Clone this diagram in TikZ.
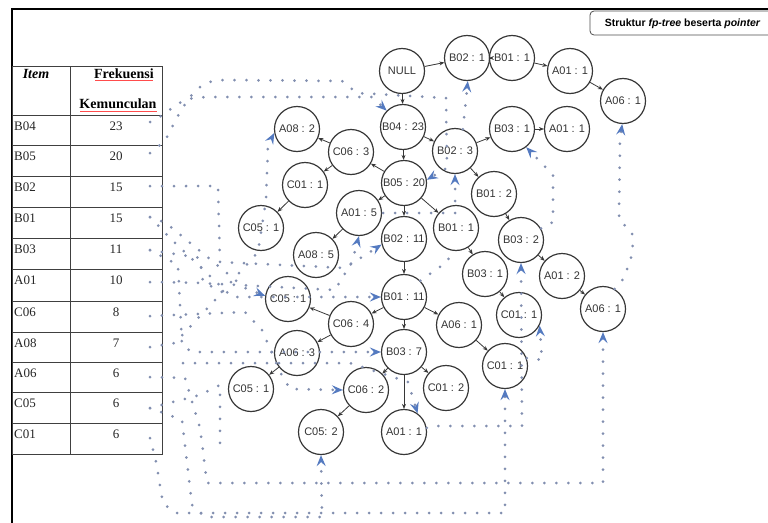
\documentclass[tikz,border=0pt]{standalone}
\usepackage{fontspec}
\setmainfont{Liberation Serif}
\setsansfont{Liberation Sans}
\usetikzlibrary{arrows.meta}
\definecolor{ptr}{RGB}{130,143,176}
\definecolor{ptrblue}{RGB}{84,122,192}
\definecolor{ink}{RGB}{55,55,55}
\begin{document}
\begin{tikzpicture}[x=1pt,y=-1pt,
  fpnode/.style={circle,draw=ink,line width=1.2pt,minimum size=45pt,inner sep=0pt,
    font=\sffamily\fontsize{11}{12}\selectfont,text=black!80},
  treeedge/.style={draw=ink,line width=0.8pt,-{Stealth[length=5pt,width=4pt]}},
  pointer/.style={draw=ptr,line width=3pt,line cap=round,dash pattern=on 0pt off 12pt},
  ptrarrow/.style={pointer,-{Stealth[length=11pt,width=9pt,inset=4pt,color=ptrblue]}},
  cell/.style={font=\fontsize{13}{15}\selectfont,text=black!85,inner sep=0pt},
  head/.style={font=\bfseries\fontsize{14}{16}\selectfont,inner sep=0pt},
  rule/.style={draw=black!75,line width=0.9pt}
]
\useasboundingbox (0,0) rectangle (768,522);

% page frame and caption box
\draw[line width=1.7pt] (12,530) -- (12,9) -- (780,9);
\draw[draw=black!70,line width=0.8pt,rounded corners=4pt] (790,11) -- (590,11) -- (590,35) -- (790,35);
\node[font=\sffamily\bfseries\fontsize{10.5}{12}\selectfont,anchor=east] (caption) at (764,24)
  {Struktur \textit{fp-tree} beserta \textit{pointer}};

% frequency table
\draw[rule] (12,66) rectangle (162,454);
\draw[rule] (70,66) -- (70,454);
\foreach \yy in {115,145,176,207,238,269,301,332,362,392,423}
  \draw[rule] (12,\yy) -- (162,\yy);
\node[head,font=\bfseries\itshape\fontsize{14}{16}\selectfont,anchor=base] (hitem) at (36,78) {Item};
\node[head,anchor=base] (hfreq1) at (124,78) {Frekuensi};
\node[head,anchor=base] (hfreq2) at (118,108) {Kemunculan};
\draw[red!70,line width=0.6pt] (95,80) -- (153,80) (80,111) -- (157,111);
\foreach \it/\fr/\top [count=\i] in {B04/23/115,B05/20/145,B02/15/176,B01/15/207,B03/11/238,
    A01/10/269,C06/8/301,A08/7/332,A06/6/362,C05/6/392,C01/6/423}{
  \node[cell,anchor=base west] (item\i) at (14,\top+15) {\it};
  \node[cell,anchor=base] (freq\i) at (116,\top+15) {\fr};
}

% row starts of the node-links
\coordinate (rB04) at (150,122);
\coordinate (rB05) at (150,153);
\coordinate (rB02) at (150,186);
\coordinate (rB01) at (150,217);
\coordinate (rB03) at (150,250);
\coordinate (rA01) at (150,282);
\coordinate (rC06) at (150,316);
\coordinate (rA08) at (150,347);
\coordinate (rA06) at (150,377);
\coordinate (rC05) at (150,408);
\coordinate (rC01) at (150,438);
\coordinate (q1) at (383,213);
\coordinate (q2) at (183,363);

% fp-tree nodes
\node[fpnode] (null)  at (402,71)  {NULL};
\node[fpnode] (b021)  at (467,58)  {B02 : 1};
\node[fpnode] (b011t) at (512,58)  {B01 : 1};
\node[fpnode] (a011t) at (570,71)  {A01 : 1};
\node[fpnode] (a06t)  at (623,101) {A06 : 1};
\node[fpnode] (b04)   at (403,127) {B04 : 23};
\node[fpnode] (b023)  at (455,151) {B02 : 3};
\node[fpnode] (b031u) at (512,129) {B03 : 1};
\node[fpnode] (a011u) at (567,129) {A01 : 1};
\node[fpnode] (a082)  at (297,129) {A08 : 2};
\node[fpnode] (c063)  at (351,152) {C06 : 3};
\node[fpnode] (c011u) at (305,185) {C01 : 1};
\node[fpnode] (b05)   at (404,183) {B05 : 20};
\node[fpnode] (c051u) at (261,228) {C05 : 1};
\node[fpnode] (a015)  at (359,213) {A01 : 5};
\node[fpnode] (a085)  at (316,255) {A08 : 5};
\node[fpnode] (b0211) at (404,239) {B02 : 11};
\node[fpnode] (b012)  at (494,194) {B01 : 2};
\node[fpnode] (b011m) at (456,228) {B01 : 1};
\node[fpnode] (b032)  at (521,240) {B03 : 2};
\node[fpnode] (b031m) at (485,274) {B03 : 1};
\node[fpnode] (a012)  at (562,276) {A01 : 2};
\node[fpnode] (c011m) at (519,315) {C01 : 1};
\node[fpnode] (a06r)  at (603,309) {A06 : 1};
\node[fpnode] (b0111) at (404,297) {B01 : 11};
\node[fpnode] (a06m)  at (459,325) {A06 : 1};
\node[fpnode] (b037)  at (404,352) {B03 : 7};
\node[fpnode] (c011l) at (505,366) {C01 : 1};
\node[fpnode] (c012)  at (446,388) {C01 : 2};
\node[fpnode] (a011b) at (404,432) {A01 : 1};
\node[fpnode] (c064)  at (351,324) {C06 : 4};
\node[fpnode] (c051m) at (288,299) {C05 : 1};
\node[fpnode] (a063)  at (297,353) {A06 : 3};
\node[fpnode] (c051l) at (251,389) {C05 : 1};
\node[fpnode] (c062)  at (366,390) {C06 : 2};
\node[fpnode] (c052)  at (321,432) {C05: 2};

% tree edges
\foreach \p/\c in {null/b021,b021/b011t,b011t/a011t,a011t/a06t,null/b04,b04/b05,b04/b023,
    b023/b031u,b031u/a011u,b023/b012,b012/b032,b032/a012,a012/a06r,b05/c063,c063/a082,
    c063/c011u,c011u/c051u,b05/a015,a015/a085,b05/b0211,b05/b011m,b011m/b031m,b031m/c011m,
    b0211/b0111,b0111/c064,c064/c051m,c064/a063,a063/c051l,b0111/a06m,a06m/c011l,
    b0111/b037,b037/c062,c062/c052,b037/c012,b037/a011b}
  \draw[treeedge] (\p) -- (\c);

% node-links (pointers)
\draw[ptrarrow] (rB04) -- (163,115) .. controls (185,98) .. (212,97) -- (372,97) -- (b04.135);
\draw[ptrarrow] (rB05) -- (165,141) .. controls (190,90) and (200,80) .. (225,80) -- (342,81)
  -- (357,93) -- (446,98) -- (447,168) -- (b05.8);
\draw[ptrarrow] (rB02) -- (218,186) -- (220,262) -- (345,268) -- (b0211.194);
\draw[ptrarrow] (q1) -- (455,213) -- (b023.-90);
\draw[ptrarrow] (b023.70) -- (b021.-88);
\draw[ptrarrow] (rB01) -- (166,223) -- (245,288) -- (c051m.172);
\draw[ptrarrow] (rB01) -- (172,240) -- (232,297) -- (b0111.180);
\draw[pointer] (b0111.45) -- (447,262) -- (b011m.-100);
\draw[ptrarrow] (rB03) -- (178,265) -- (182,345) -- (192,352) -- (b037.180);
\draw[pointer] (rB03) -- (200,258) -- (203,282) -- (222,292);
\draw[ptrarrow] (a011b.10) -- (433,426) -- (522,426) -- (b032.-90);
\draw[ptrarrow] (b032.30) -- (553,222) -- (553,175) -- (b031u.-52);
\draw[ptrarrow] (a06r.60) -- (624,278) -- (633,252) -- (632,232) -- (619,220) -- (620,140) -- (a06t.-92);
\draw[ptrarrow] (rA06) -- (185,378) -- (200,428) -- (207,483) -- (603,483) -- (a06r.-90);
\draw[ptrarrow] (rC01) -- (156,462) -- (163,503) -- (175,513) -- (505,513) -- (c011l.-90);
\draw[ptrarrow] (rC05) -- (182,420) -- (192,505) -- (205,517) -- (322,517) -- (c052.-90);
\draw[pointer] (rC05) -- (200,395) -- (220,385) -- (220,450);
\draw[ptrarrow] (c011l.20) -- (542,360) -- (c011m.-27);
\draw[ptrarrow] (rC06) -- (245,312) -- (262,330) -- (280,372) -- (290,389) -- (c062.180);
\draw[ptrarrow] (rA08) -- (175,343) -- (215,300) -- (258,252) -- (266,200) -- (268,145) -- (a082.190);
\draw[ptrarrow] (rA01) -- (200,283) -- (335,290) -- (352,262) -- (a015.-90);
\draw[ptrarrow] (q2) -- (350,363) -- (408,382) -- (a011b.54);
\end{tikzpicture}
\end{document}
